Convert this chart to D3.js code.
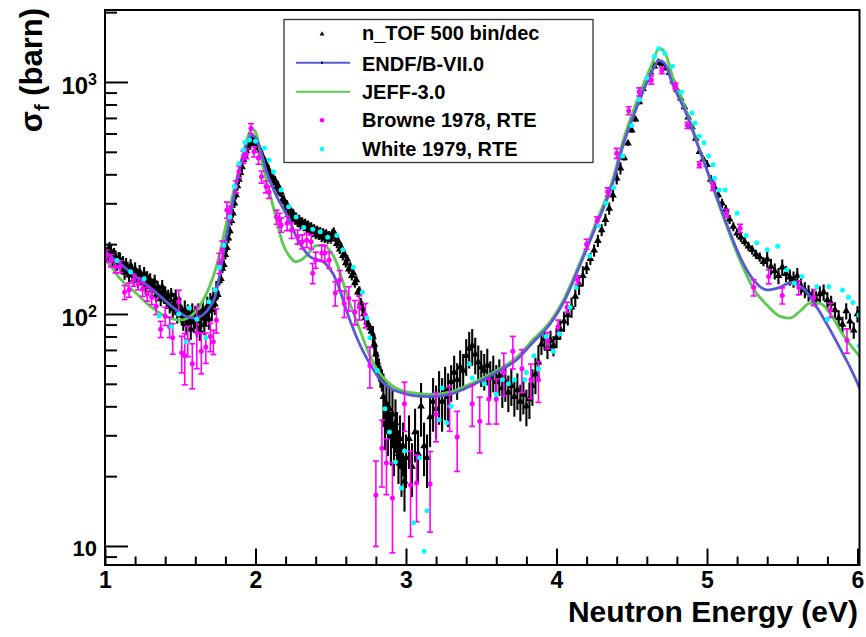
<!DOCTYPE html>
<html>
<head>
<meta charset="utf-8">
<script src="https://cdn.jsdelivr.net/npm/d3@7"></script>
<style>
  body { margin: 0; background: #fff; }
  svg { display: block; }
  text { font-family: "Liberation Sans", Arial, Helvetica, sans-serif; font-weight: bold; fill: #000; }
</style>
</head>
<body>
<svg id="chart" width="866" height="637"></svg>
<script>
// ---- n_TOF fission cross section, 500 bins per decade (energy in eV, sigma in barn)
const ntofE = [
  1.00,1.01,1.02,1.03,1.04,1.05,1.06,1.07,1.08,1.09,
  1.10,1.11,1.12,1.13,1.14,1.15,1.16,1.17,1.18,1.19,
  1.20,1.21,1.22,1.23,1.24,1.25,1.26,1.27,1.28,1.29,
  1.30,1.31,1.32,1.33,1.34,1.35,1.36,1.37,1.38,1.39,
  1.40,1.41,1.42,1.43,1.44,1.45,1.46,1.47,1.48,1.49,
  1.50,1.51,1.52,1.53,1.54,1.55,1.56,1.57,1.58,1.59,
  1.60,1.61,1.62,1.63,1.64,1.65,1.66,1.67,1.68,1.69,
  1.70,1.71,1.72,1.73,1.74,1.75,1.76,1.77,1.78,1.79,
  1.80,1.81,1.82,1.83,1.84,1.85,1.86,1.87,1.88,1.89,
  1.90,1.91,1.92,1.93,1.94,1.95,1.96,1.97,1.98,1.99,
  2.00,2.01,2.02,2.03,2.04,2.05,2.06,2.07,2.08,2.09,
  2.10,2.11,2.12,2.13,2.14,2.15,2.16,2.17,2.18,2.19,
  2.20,2.21,2.22,2.23,2.24,2.25,2.26,2.27,2.28,2.29,
  2.30,2.31,2.32,2.33,2.34,2.35,2.36,2.37,2.38,2.39,
  2.40,2.41,2.42,2.43,2.44,2.45,2.46,2.47,2.48,2.49,
  2.50,2.51,2.52,2.53,2.54,2.55,2.56,2.57,2.58,2.59,
  2.60,2.61,2.62,2.63,2.64,2.65,2.66,2.67,2.68,2.69,
  2.70,2.71,2.72,2.73,2.74,2.75,2.76,2.77,2.78,2.79,
  2.80,2.81,2.82,2.83,2.84,2.85,2.86,2.87,2.88,2.89,
  2.90,2.91,2.92,2.93,2.94,2.95,2.96,2.97,2.98,2.99,
  3.00,3.02,3.04,3.06,3.08,3.10,3.12,3.14,3.16,3.18,
  3.20,3.22,3.24,3.26,3.28,3.30,3.32,3.34,3.36,3.38,
  3.40,3.42,3.44,3.46,3.48,3.50,3.52,3.54,3.56,3.58,
  3.60,3.62,3.64,3.66,3.68,3.70,3.72,3.74,3.76,3.78,
  3.80,3.82,3.84,3.86,3.88,3.90,3.92,3.94,3.96,3.98,
  4.000,4.025,4.050,4.075,4.100,4.125,4.150,4.175,4.200,4.225,
  4.250,4.275,4.300,4.325,4.350,4.375,4.400,4.425,4.450,4.475,
  4.500,4.525,4.550,4.575,4.600,4.625,4.650,4.675,4.700,4.725,
  4.750,4.775,4.800,4.825,4.850,4.875,4.900,4.925,4.950,4.975,
  5.000,5.025,5.050,5.075,5.100,5.125,5.150,5.175,5.200,5.225,
  5.250,5.275,5.300,5.325,5.350,5.375,5.400,5.425,5.450,5.475,
  5.500,5.525,5.550,5.575,5.600,5.625,5.650,5.675,5.700,5.725,
  5.750,5.775,5.800,5.825,5.850,5.875,5.900,5.925,5.950,5.975,
  6.000
];
const ntofSigma = [
  196,183,178,191,186,171,180,176,165,173,
  172,160,166,151,163,157,147,161,154,141,
  156,147,139,152,144,136,149,131,143,138,
  140,127,133,138,121,130,125,116,131,120,
  123,113,119,108,121,105,112,116,101,109,
  107,99,94,104,90,100,96,86,101,92,
  98,88,101,85,96,104,90,99,108,95,
  112,104,118,110,126,121,139,142,157,163,
  180,193,212,228,252,272,300,326,356,380,
  406,430,462,482,505,522,540,552,560,556,
  548,532,522,508,486,474,452,444,420,416,
  396,394,374,377,352,358,336,334,312,310,
  290,296,276,282,264,272,255,262,248,256,
  242,250,238,246,233,242,228,238,224,233,
  220,230,218,227,214,224,212,222,210,218,
  210,222,226,214,201,206,190,194,178,182,
  166,172,156,160,146,150,136,140,124,126,
  112,106,100,96,92,90,87,84,80,74,
  67,62,58,54,52,44,35,41,33,39,
  30,37,27,34,30,25,29,22,27,19,
  24,29,22,31,25,40,27,24,36,42,
  39,45,42,47,44,51,56,52,59,57,
  66,71,73,67,62,59,57,60,53,56,
  51,54,48,51,46,49,44,47,42,45,
  40,43,49,55,62,74,78,71,77,73,
  79,86,93,99,107,119,134,146,158,173,
  188,207,230,255,285,325,385,425,470,545,
  620,690,820,935,1020,1100,1170,1215,1195,1150,
  1095,1010,925,850,780,705,640,570,500,465,
  440,380,352,326,300,282,256,238,223,214,
  205,196,189,181,176,168,172,160,153,146,
  159,149,144,141,146,132,127,123,119,116,
  122,124,115,111,104,96,90,103,93,85,
  100
];
// relative uncertainty (%) of the n_TOF points, by energy band
const ntofErrEdges = [1.0, 1.45, 1.75, 2.78, 2.85, 3.3, 3.9, 4.2, 4.45, 5.0, 5.4, 6.1];
const ntofErrPct   = [7, 10, 4.5, 11, 26, 18, 10, 6, 2.5, 4.5, 8];

// ---- evaluated cross sections
const endfE = [1.00,1.05,1.10,1.15,1.20,1.25,1.30,1.35,1.40,1.45,1.50,1.55,1.60,1.65,1.70,1.73,1.76,1.80,1.83,1.86,1.89,1.92,1.95,1.975,2.00,2.03,2.07,2.10,2.14,2.18,2.23,2.27,2.32,2.36,2.40,2.45,2.49,2.54,2.58,2.63,2.67,2.71,2.76,2.82,2.89,2.96,3.05,3.15,3.29,3.40,3.51,3.62,3.73,3.84,3.96,4.05,4.15,4.26,4.38,4.44,4.51,4.58,4.64,4.68,4.72,4.77,4.87,4.95,5.04,5.13,5.22,5.31,5.40,5.48,5.55,5.60,5.64,5.73,5.82,5.90,5.95,6.02];
const endfSigma = [186,175,165,155,146,138,130,122,114,107,101,97,96,99,108,118,145,205,260,330,415,490,560,590,575,520,418,370,322,288,250,216,190,177,172,168,158,138,116,93,80,70,61,53,48,46,44.5,44,45,48,52,57,63,75,91,113,159,237,378,527,710,925,1127,1240,1200,985,710,509,355,245,176,140,127,130,136,134,129,107,85,68,59,47];
const jeffE = [1.00,1.05,1.10,1.15,1.20,1.30,1.40,1.50,1.55,1.60,1.65,1.70,1.74,1.78,1.82,1.86,1.90,1.94,1.975,2.00,2.05,2.09,2.14,2.18,2.23,2.27,2.32,2.36,2.40,2.45,2.49,2.54,2.58,2.63,2.67,2.71,2.76,2.82,2.89,2.98,3.07,3.16,3.29,3.40,3.51,3.62,3.73,3.84,3.96,4.05,4.15,4.26,4.38,4.44,4.51,4.58,4.64,4.68,4.72,4.77,4.87,4.95,5.04,5.13,5.22,5.31,5.40,5.48,5.55,5.62,5.68,5.75,5.82,5.90,6.02];
const jeffSigma = [172,157,142,132,124,108,98,94,96,102,114,134,160,205,270,350,440,555,630,610,430,342,254,202,176,168,174,185,197,198,189,166,138,110,94,80,66,56,50,46.5,45.5,45,46,49,53,58,64.5,77,93,116,163,245,392,550,750,985,1220,1400,1340,1060,730,515,350,240,170,128,109,98,96,103,111,111,100,82,65];

// ---- Browne 1978 (RTE), with relative uncertainty (%)
const browneE = [1.01,1.04,1.07,1.10,1.13,1.16,1.19,1.22,1.25,1.28,1.31,1.34,1.37,1.40,1.43,1.45,
  1.49,1.51,1.53,1.55,1.58,1.61,1.64,1.67,1.70,1.72,1.74,
  1.76,1.78,1.81,1.83,1.87,1.89,1.92,1.94,1.97,1.99,
  2.02,2.04,2.07,2.09,2.14,2.16,2.17,2.21,2.24,2.28,
  2.31,2.34,2.37,2.38,2.40,2.44,2.46,2.49,
  2.53,2.56,2.59,2.62,2.66,2.69,2.73,2.76,
  2.80,2.84,2.87,2.91,2.99,3.03,3.07,3.16,3.20,
  3.29,3.34,3.44,3.49,3.55,3.60,3.65,3.71,3.77,3.83,3.88,3.94,
  4.01,4.07,4.14,4.20,4.27,4.34,4.40,4.48,4.55,4.63,4.70,
  4.79,4.87,4.95,5.04,5.13,5.22,5.31,5.41,5.50,5.61,5.71,5.82,5.93];
const browneSigma = [178,170,160,160,124,127,140,135,128,122,118,108,86,98,88,79,
  113,68,66,77,61,83,69,72,80,76,94,
  166,189,281,272,354,410,475,491,630,500,
  470,390,354,335,262,254,242,246,230,215,
  205,208,205,150,171,183,183,171,
  123,140,111,117,102,107,99,60,
  16.6,26.4,22.8,16.1,41,18.3,18.7,18.5,37,
  40,29.5,41,34.5,43,43,56,69,58,52,52,77,
  88,107,140,200,252,336,493,752,907,1020,1120,
  960,650,440,355,272,234,130,145,120,130,118,104,77];
const browneErrPct = [6,6,6,6,7,7,6,6,7,7,7,8,8,9,10,15,
  12,18,25,15,22,30,20,15,14,12,12,
  10,9,8,7,6,6,6,5,5,5,
  6,6,6,6,7,7,7,7,8,7,
  7,7,7,10,8,8,8,8,
  12,10,13,12,12,12,12,20,
  40,32,27,42,24,40,32,38,24,
  22,29,20,27,22,22,21,16,21,17,20,8,
  7,5,4,5,4,4,5,4,4,4,3,
  3,3,3,4,4,4,8,7,8,7,8,7,12];

// ---- White 1979 (RTE)
const whiteE = [1.00,1.08,1.17,1.26,1.36,1.44,1.49,1.54,1.56,1.61,1.67,1.69,1.73,1.76,1.79,1.83,1.86,1.89,1.92,1.93,1.96,2.00,
  2.06,2.09,2.12,2.17,2.22,2.27,2.32,2.38,2.43,2.48,2.54,2.58,2.65,2.71,2.74,2.76,2.81,2.86,2.89,2.93,2.97,2.99,
  3.05,3.09,3.12,3.14,3.22,3.24,3.27,3.30,3.42,3.44,3.52,3.60,3.64,3.68,3.72,3.79,3.80,3.85,3.88,3.93,3.98,
  4.02,4.09,4.13,4.22,4.28,4.33,4.38,4.44,4.50,4.55,4.60,4.65,4.68,4.72,4.77,4.83,4.90,4.92,4.95,4.98,
  5.01,5.04,5.05,5.08,5.12,5.20,5.26,5.33,5.40,5.47,5.53,5.58,5.63,5.73,5.80,5.81,5.90,5.94,5.97,6.01,6.012];
const whiteSigma = [198,170,152,142,98,88,100,76,106,95,79,113,127,159,198,262,354,445,509,550,562,555,
  519,461,410,342,290,262,236,232,226,214,218,189,159,124,96,79,57,39,31,23,17.8,25.7,
  12.6,24,9.5,14.2,35,48,34,40,61,53,50,45,52,50,52,52,56,66,58,80,69,
  82,107,130,178,240,300,350,480,650,840,1040,1287,1390,1330,1170,905,735,665,584,547,
  480,440,385,342,342,272,218,203,189,196,155,136,145,131,95,131,127,118,112,99,73];

// ---- axes and legend text
const xTickValues = [1, 2, 3, 4, 5, 6];
const yTickValues = [10, 100, 1000];
const yTickExponents = [1, 2, 3];
const xTitle = "Neutron Energy (eV)";
const legendLabels = ["n_TOF 500 bin/dec", "ENDF/B-VII.0", "JEFF-3.0", "Browne 1978, RTE", "White 1979, RTE"];

// ---- colours
const colBlue = "#5a5ad6";
const colGreen = "#5acb4e";
const colMagenta = "#ff00ff";
const colCyan = "#00ffff";

// ---- frame geometry and scales
const frame = { left: 105, right: 859.5, top: 10, bottom: 565 };
const x = d3.scaleLinear().domain([1, 6.0133]).range([frame.left, frame.right]);
const y = d3.scaleLog().domain([8.28, 2043]).range([frame.bottom, frame.top]);

const svg = d3.select("#chart");
svg.append("rect").attr("width", 866).attr("height", 637).attr("fill", "#fff");

svg.append("defs").append("clipPath").attr("id", "plotClip")
  .append("rect")
  .attr("x", frame.left).attr("y", frame.top)
  .attr("width", frame.right - frame.left).attr("height", frame.bottom - frame.top);

const plot = svg.append("g").attr("clip-path", "url(#plotClip)");

// n_TOF points: vertical error bars and up-triangle markers
function ntofRelErr(e) {
  for (let k = 0; k < ntofErrPct.length; k++) {
    if (e >= ntofErrEdges[k] && e < ntofErrEdges[k + 1]) return ntofErrPct[k] / 100;
  }
  return ntofErrPct[ntofErrPct.length - 1] / 100;
}
const ntof = ntofE.map((e, i) => ({ e, s: ntofSigma[i], err: ntofSigma[i] * ntofRelErr(e) }));

const gNtof = plot.append("g");
gNtof.selectAll("line").data(ntof).join("line")
  .attr("x1", d => x(d.e)).attr("x2", d => x(d.e))
  .attr("y1", d => y(Math.max(d.s - d.err, 1))).attr("y2", d => y(d.s + d.err))
  .attr("stroke", "#000").attr("stroke-width", 2.1);
const triangle = d3.symbol(d3.symbolTriangle, 26);
gNtof.selectAll("path").data(ntof).join("path")
  .attr("d", triangle)
  .attr("transform", d => `translate(${x(d.e)},${y(d.s)})`)
  .attr("fill", "#000");

// evaluated curves
const line = d3.line().x(d => x(d[0])).y(d => y(d[1])).curve(d3.curveMonotoneX);
plot.append("path")
  .datum(jeffE.map((e, i) => [e, jeffSigma[i]]))
  .attr("d", line).attr("fill", "none").attr("stroke", colGreen).attr("stroke-width", 2.8);
plot.append("path")
  .datum(endfE.map((e, i) => [e, endfSigma[i]]))
  .attr("d", line).attr("fill", "none").attr("stroke", colBlue).attr("stroke-width", 2.8);

// Browne 1978: magenta points with capped error bars
const browne = browneE.map((e, i) => ({ e, s: browneSigma[i], err: browneSigma[i] * browneErrPct[i] / 100 }));
const gBrowne = plot.append("g").attr("stroke", colMagenta).attr("stroke-width", 1.6);
const bg = gBrowne.selectAll("g").data(browne).join("g");
bg.append("line")
  .attr("x1", d => x(d.e)).attr("x2", d => x(d.e))
  .attr("y1", d => y(d.s - d.err)).attr("y2", d => y(d.s + d.err));
bg.append("line")
  .attr("x1", d => x(d.e) - 3).attr("x2", d => x(d.e) + 3)
  .attr("y1", d => y(d.s - d.err)).attr("y2", d => y(d.s - d.err));
bg.append("line")
  .attr("x1", d => x(d.e) - 3).attr("x2", d => x(d.e) + 3)
  .attr("y1", d => y(d.s + d.err)).attr("y2", d => y(d.s + d.err));
bg.append("circle")
  .attr("cx", d => x(d.e)).attr("cy", d => y(d.s)).attr("r", 2.5)
  .attr("fill", colMagenta).attr("stroke", "none");

// White 1979: cyan points
plot.append("g").selectAll("circle")
  .data(whiteE.map((e, i) => ({ e, s: whiteSigma[i] })))
  .join("circle")
  .attr("cx", d => x(d.e)).attr("cy", d => y(d.s)).attr("r", 2.5)
  .attr("fill", colCyan);

// ---- axes
const minorX = d3.range(1.2, 6.0, 0.2).filter(v => Math.abs(v - Math.round(v)) > 1e-6);
const minorY = [];
[1, 10, 100, 1000].forEach(dec => { for (let k = 2; k <= 9; k++) minorY.push(k * dec); });
const minorYIn = minorY.filter(v => v > y.domain()[0] && v < y.domain()[1]);

const xAxisMajor = svg.append("g")
  .attr("transform", `translate(0,${frame.bottom})`)
  .call(d3.axisBottom(x).tickValues(xTickValues).tickSizeInner(-16.5).tickSizeOuter(0)
    .tickPadding(7).tickFormat(d3.format("d")));
const xAxisMinor = svg.append("g")
  .attr("transform", `translate(0,${frame.bottom})`)
  .call(d3.axisBottom(x).tickValues(minorX).tickSizeInner(-8.5).tickSizeOuter(0).tickFormat(""));
const yAxisMajor = svg.append("g")
  .attr("transform", `translate(${frame.left},0)`)
  .call(d3.axisLeft(y).tickValues(yTickValues).tickSizeInner(-23).tickSizeOuter(0).tickFormat(""));
const yAxisMinor = svg.append("g")
  .attr("transform", `translate(${frame.left},0)`)
  .call(d3.axisLeft(y).tickValues(minorYIn).tickSizeInner(-12).tickSizeOuter(0).tickFormat(""));

[xAxisMajor, xAxisMinor, yAxisMajor, yAxisMinor].forEach(g => {
  g.select(".domain").remove();
  g.selectAll(".tick line").attr("stroke", "#000").attr("stroke-width", 2);
});
xAxisMajor.selectAll(".tick text")
  .style("font-size", "23px").style("font-family", "'Liberation Sans', Arial, sans-serif")
  .style("font-weight", "bold").attr("fill", "#000");

// y tick labels: 10, 10^2, 10^3
yTickValues.forEach((v, i) => {
  const ex = yTickExponents[i];
  const t = svg.append("text")
    .attr("x", 97).attr("y", y(v) + (ex === 1 ? 10.5 : 12.5))
    .attr("text-anchor", "end")
    .style("font-size", ex === 1 ? "22px" : "24px");
  t.append("tspan").text("10");
  if (ex !== 1) {
    t.append("tspan").attr("dy", -9).style("font-size", "16px").text(String(ex));
  }
});

// frame
svg.append("rect")
  .attr("x", frame.left).attr("y", frame.top)
  .attr("width", frame.right - frame.left).attr("height", frame.bottom - frame.top)
  .attr("fill", "none").attr("stroke", "#000").attr("stroke-width", 2);

// axis titles
svg.append("text")
  .attr("x", 858).attr("y", 622)
  .attr("text-anchor", "end")
  .style("font-size", "30px")
  .text(xTitle);

const yTitle = svg.append("text")
  .attr("transform", "translate(41.5,8) rotate(-90)")
  .attr("text-anchor", "end")
  .style("font-size", "31px");
yTitle.append("tspan").text("σ");
yTitle.append("tspan").attr("dy", 7).style("font-size", "20px").text("f");
yTitle.append("tspan").attr("dy", -7).text(" (barn)");

// ---- legend
const lg = svg.append("g");
lg.append("rect")
  .attr("x", 284).attr("y", 19.5).attr("width", 309).attr("height", 143)
  .attr("fill", "#fff").attr("stroke", "#333").attr("stroke-width", 1.3);
const rowY = [34, 62.7, 91.7, 120.3, 149];
const rowBase = [39.5, 71, 99.3, 127.3, 156];
legendLabels.forEach((lab, i) => {
  lg.append("text").attr("x", 362).attr("y", rowBase[i]).style("font-size", "20px").text(lab);
});
lg.append("path").attr("d", d3.symbol(d3.symbolTriangle, 10))
  .attr("transform", `translate(322,${rowY[0]})`).attr("fill", "#000");
lg.append("line").attr("x1", 296).attr("x2", 350).attr("y1", rowY[1]).attr("y2", rowY[1])
  .attr("stroke", colBlue).attr("stroke-width", 2);
lg.append("rect").attr("x", 321).attr("y", rowY[1] - 1).attr("width", 2).attr("height", 2).attr("fill", "#000");
lg.append("line").attr("x1", 296).attr("x2", 350).attr("y1", rowY[2]).attr("y2", rowY[2])
  .attr("stroke", colGreen).attr("stroke-width", 2);
lg.append("circle").attr("cx", 322).attr("cy", rowY[3]).attr("r", 2.3).attr("fill", colMagenta);
lg.append("circle").attr("cx", 322).attr("cy", rowY[4]).attr("r", 2.3).attr("fill", colCyan);
</script>
</body>
</html>
